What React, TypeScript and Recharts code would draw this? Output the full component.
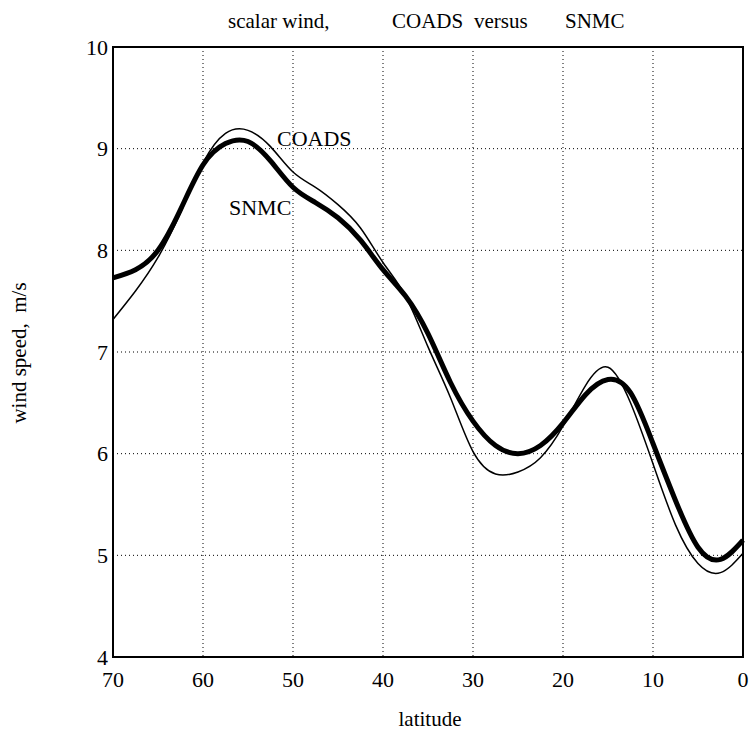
import React from 'react';
import { LineChart, Line, XAxis, YAxis, CartesianGrid, ReferenceArea } from 'recharts';

const latitudes = [70, 67.5, 65, 62.5, 60, 57.5, 55, 52.5, 50, 47.5, 45, 42.5, 40, 37.5, 35, 32.5, 30, 27.5, 25, 22.5, 20, 17.5, 15, 12.5, 10, 7.5, 5, 2.5, 0];
const snmc = [7.73, 7.81, 8.0, 8.4, 8.84, 9.05, 9.07, 8.88, 8.62, 8.47, 8.32, 8.1, 7.81, 7.55, 7.18, 6.7, 6.32, 6.08, 6.0, 6.08, 6.3, 6.58, 6.73, 6.6, 6.1, 5.54, 5.08, 4.96, 5.15];
const coads = [7.32, 7.6, 7.93, 8.37, 8.86, 9.15, 9.18, 9.02, 8.77, 8.62, 8.45, 8.22, 7.88, 7.55, 7.05, 6.55, 6.02, 5.8, 5.82, 5.96, 6.27, 6.67, 6.85, 6.5, 5.9, 5.3, 4.92, 4.83, 5.02];
const xTicks = [70, 60, 50, 40, 30, 20, 10, 0];
const yTicks = [4, 5, 6, 7, 8, 9, 10];

const data = latitudes.map((lat, i) => ({ lat, snmc: snmc[i], coads: coads[i] }));

const FONT = '"Liberation Serif", "DejaVu Serif", serif';

export default function App() {
  return (
    <div style={{ position: 'absolute', left: 0, top: 0, width: 751, height: 742, background: '#fff' }}>
      <LineChart width={751} height={742} data={data} margin={{ top: 47, right: 8, left: 63, bottom: 45 }}>
        <CartesianGrid stroke="#000" strokeDasharray="1 3" strokeWidth={1} />
        <XAxis
          dataKey="lat"
          type="number"
          domain={[0, 70]}
          reversed
          ticks={xTicks}
          height={40}
          tickLine={false}
          axisLine={false}
          tickSize={0}
          tickMargin={14}
          tick={{ fontSize: 22, fill: '#000', fontFamily: FONT }}
          interval={0}
        />
        <YAxis
          type="number"
          domain={[4, 10]}
          ticks={yTicks}
          width={50}
          tickLine={false}
          axisLine={false}
          tickSize={0}
          tickMargin={5}
          tick={{ fontSize: 22, fill: '#000', fontFamily: FONT }}
          interval={0}
        />
        <ReferenceArea x1={70} x2={0} y1={4} y2={10} fill="none" stroke="#000" strokeWidth={2} />
        <Line type="natural" dataKey="coads" stroke="#000" strokeWidth={1.5} dot={false} isAnimationActive={false} />
        <Line type="natural" dataKey="snmc" stroke="#000" strokeWidth={5} dot={false} isAnimationActive={false} />
        <text x={228} y={28} fontSize={21} fontFamily={FONT} fill="#000">scalar wind,</text>
        <text x={392} y={28} fontSize={21} fontFamily={FONT} fill="#000">COADS</text>
        <text x={474} y={28} fontSize={21} fontFamily={FONT} fill="#000">versus</text>
        <text x={565} y={28} fontSize={21} fontFamily={FONT} fill="#000">SNMC</text>
        <text x={277} y={146} fontSize={22} fontFamily={FONT} fill="#000">COADS</text>
        <text x={229} y={215} fontSize={22} fontFamily={FONT} fill="#000">SNMC</text>
        <text x={430} y={726} fontSize={21} fontFamily={FONT} fill="#000" textAnchor="middle">latitude</text>
        <text x={26} y={353} fontSize={21} fontFamily={FONT} fill="#000" textAnchor="middle" transform="rotate(-90 26 353)" style={{ whiteSpace: 'pre' }}>wind speed,  m/s</text>
      </LineChart>
    </div>
  );
}
